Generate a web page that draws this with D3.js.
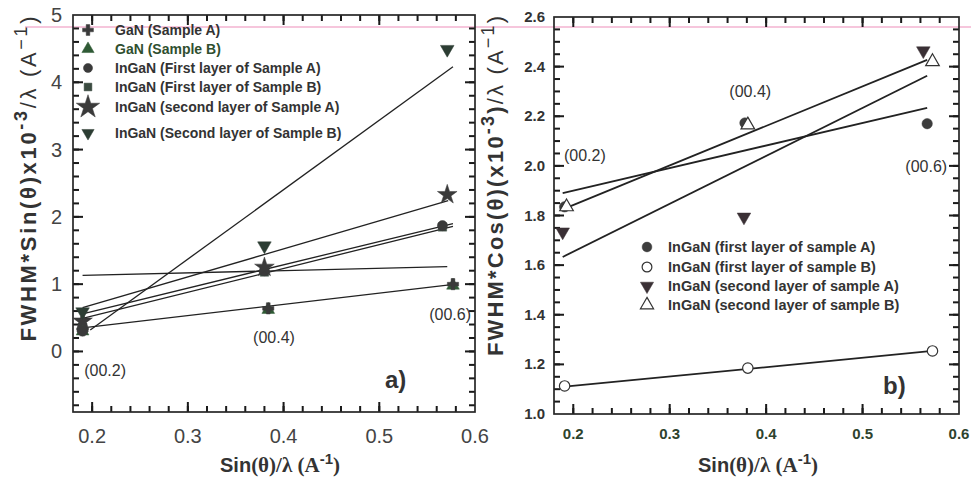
<!DOCTYPE html>
<html>
<head>
<meta charset="utf-8">
<script src="https://cdn.jsdelivr.net/npm/d3@7"></script>
<style>
  body { margin: 0; background: #fff; }
  text { font-family: Arial, "Liberation Sans", sans-serif; }
</style>
</head>
<body>
<svg id="chart" width="971" height="480"></svg>
<script>
// ---------- panel a data ----------
var xTicksA = [0.2, 0.3, 0.4, 0.5, 0.6]
var yTicksA = [0, 1, 2, 3, 4, 5]

// drawing order matters: later series sit on top
var seriesA = [
    { name: "GaN (Sample B)", symbol: "triangle", fill: "#2f5a35", color: "#2f4f2f", leg: 1,
      x: [0.19, 0.384, 0.577], y: [0.3, 0.62, 0.98] },
    { name: "GaN (Sample A)", symbol: "cross", fill: "#3a3a3a", color: "#333", leg: 0,
      x: [0.19, 0.384, 0.577], y: [0.32, 0.64, 1.0] },
    { name: "InGaN (First layer of Sample B)", symbol: "square", fill: "#3a4a40", color: "#333", leg: 3,
      x: [0.19, 0.38, 0.566], y: [0.36, 1.18, 1.85] },
    { name: "InGaN (First layer of Sample A)", symbol: "circle", fill: "#3a3a3a", color: "#333", leg: 2,
      x: [0.19, 0.38, 0.566], y: [0.3, 1.2, 1.87] },
    { name: "InGaN (second layer of Sample A)", symbol: "star", fill: "#3a3a3a", color: "#333", leg: 4,
      x: [0.19, 0.38, 0.571], y: [0.45, 1.25, 2.33] },
    { name: "InGaN (Second layer of Sample B)", symbol: "down", fill: "#2c3d33", color: "#333", leg: 5,
      x: [0.19, 0.38, 0.571], y: [0.59, 1.57, 4.49] }
]

// fitted lines, end values
var fitA = [
    { x: [0.198, 0.577], y: [0.32, 4.23] },
    { x: [0.19, 0.572], y: [0.65, 2.24] },
    { x: [0.19, 0.577], y: [0.56, 1.90] },
    { x: [0.19, 0.577], y: [0.49, 1.86] },
    { x: [0.19, 0.571], y: [1.13, 1.26] },
    { x: [0.19, 0.58], y: [0.35, 1.0] }
]

var hklA = [
    { label: "(00.2)", x: 0.2135, y: -0.36 },
    { label: "(00.4)", x: 0.39, y: 0.13 },
    { label: "(00.6)", x: 0.574, y: 0.46 }
]

// ---------- panel b data ----------
var xTicksB = [0.2, 0.3, 0.4, 0.5, 0.6]
var yTicksB = [1.0, 1.2, 1.4, 1.6, 1.8, 2.0, 2.2, 2.4, 2.6]

var seriesB = [
    { name: "InGaN (first layer of sample A)", symbol: "circle", fill: "#3d3d3d",
      x: [0.191, 0.378, 0.567], y: [1.835, 2.173, 2.17] },
    { name: "InGaN (first layer of sample B)", symbol: "circle", fill: "none",
      x: [0.191, 0.381, 0.5725], y: [1.113, 1.185, 1.254] },
    { name: "InGaN (second layer of sample A)", symbol: "down", fill: "#3a3035",
      x: [0.189, 0.377, 0.563], y: [1.734, 1.794, 2.464] },
    { name: "InGaN (second layer of sample B)", symbol: "triangle", fill: "none",
      x: [0.193, 0.381, 0.5725], y: [1.835, 2.165, 2.42] }
]

var fitB = [
    { x: [0.191, 0.5725], y: [1.11, 1.254] },
    { x: [0.189, 0.567], y: [1.825, 2.427] },
    { x: [0.189, 0.567], y: [1.89, 2.234] },
    { x: [0.189, 0.567], y: [1.633, 2.363] }
]

var hklB = [
    { label: "(00.2)", x: 0.212, y: 2.02 },
    { label: "(00.4)", x: 0.3835, y: 2.278 },
    { label: "(00.6)", x: 0.566, y: 1.975 }
]

var svg = d3.select("#chart")

// scanner artefact: faint pink stripe along the top
svg.append("line")
    .attr("x1", 25).attr("x2", 971).attr("y1", 27).attr("y2", 27)
    .attr("stroke", "#f6c6dc").attr("stroke-width", 2)

function symbolPath(kind, size) {
    var t = {
        cross: d3.symbolCross, triangle: d3.symbolTriangle, circle: d3.symbolCircle,
        square: d3.symbolSquare, star: d3.symbolStar, down: d3.symbolTriangle
    }[kind]
    return d3.symbol().type(t).size(size)()
}

function draw_marker(g, kind, cx, cy, size, fill) {
    var p = g.append("path")
        .attr("d", symbolPath(kind, size))
        .attr("transform", "translate(" + cx + "," + cy + ")" + (kind == "down" ? " rotate(180)" : ""))
    if (fill == "none") {
        p.attr("fill", "#fff").attr("stroke", "#333").attr("stroke-width", 1.2)
    } else {
        p.attr("fill", fill).attr("stroke", fill).attr("stroke-width", 0.5)
    }
    return p
}

function minor_values(lo, hi, step) {
    var out = []
    for (var v = lo; v <= hi + 1e-9; v += step) out.push(+v.toFixed(4))
    return out
}

// frame with inward ticks on all four sides; ticks are small filled rects
function draw_frame(g, x, y, w, h, xMaj, xMin, yMaj, yMin) {
    var rects = []
    xMin.concat(xMaj).forEach(function (v, i) {
        var len = i < xMin.length ? 6 : 10, px = x(v)
        if (px < 1 || px > w - 1) return
        rects.push({ x: px - 1, y: h - len, w: 2, h: len })
        rects.push({ x: px - 1, y: 0, w: 2, h: len })
    })
    yMin.concat(yMaj).forEach(function (v, i) {
        var len = i < yMin.length ? 6 : 10, py = y(v)
        if (py < 1 || py > h - 1) return
        rects.push({ x: 0, y: py - 1, w: len, h: 2 })
        rects.push({ x: w - len, y: py - 1, w: len, h: 2 })
    })
    g.append("g").attr("class", "ticks").selectAll("rect").data(rects).join("rect")
        .attr("x", function (d) { return d.x }).attr("y", function (d) { return d.y })
        .attr("width", function (d) { return d.w }).attr("height", function (d) { return d.h })
        .attr("fill", "#1a1a1a")
    g.append("rect").attr("width", w).attr("height", h)
        .attr("fill", "none").attr("stroke", "#262626").attr("stroke-width", 1.7)
}

var line = function (xs, ys) {
    return d3.line().x(function (d) { return xs(d[0]) }).y(function (d) { return ys(d[1]) })
}

function x_title(cx, cy) {
    var t = svg.append("text").attr("x", cx).attr("y", cy).attr("text-anchor", "middle")
        .attr("font-size", 20).attr("font-weight", "bold").attr("fill", "#333")
    t.append("tspan").text("Sin")
    t.append("tspan").attr("font-family", "'Liberation Serif', serif").attr("font-size", 21).text("(θ)/λ (A")
    t.append("tspan").attr("dy", -8).attr("font-size", 15).text("-1")
    t.append("tspan").attr("dy", 8).attr("font-family", "'Liberation Serif', serif").attr("font-size", 21).text(")")
}

function y_title(cx, cy, len, parts) {
    var t = svg.append("text").attr("transform", "translate(" + cx + "," + cy + ") rotate(-90)")
        .attr("text-anchor", "middle").attr("font-size", 22).attr("font-weight", "bold").attr("fill", "#333")
        .attr("textLength", len).attr("lengthAdjust", "spacing")
    parts.forEach(function (p) {
        var s = t.append("tspan").text(p.t)
        if (p.dy) s.attr("dy", p.dy)
        if (p.fs) s.attr("font-size", p.fs)
        if (p.normal) s.attr("font-weight", "normal")
    })
}

// ================= panel a =================
var mA = { left: 73, top: 15, w: 402, h: 397 }
var gA = svg.append("g").attr("transform", "translate(" + mA.left + "," + mA.top + ")")
var xA = d3.scaleLinear().domain([0.18, 0.6]).range([0, mA.w])
var yA = d3.scaleLinear().domain([-0.9, 5]).range([mA.h, 0])

draw_frame(gA, xA, yA, mA.w, mA.h, xTicksA, minor_values(0.18, 0.6, 0.02),
    yTicksA, minor_values(-0.8, 5, 0.2))

fitA.forEach(function (f) {
    gA.append("path")
        .datum(d3.zip(f.x, f.y))
        .attr("fill", "none").attr("stroke", "#222").attr("stroke-width", 1.3)
        .attr("d", line(xA, yA))
})

var sizeA = { cross: 70, triangle: 70, circle: 80, square: 70, star: 120, down: 80 }
seriesA.forEach(function (s) {
    d3.zip(s.x, s.y).forEach(function (d) {
        draw_marker(gA, s.symbol, xA(d[0]), yA(d[1]), sizeA[s.symbol], s.fill)
    })
})

hklA.forEach(function (h) {
    gA.append("text").attr("x", xA(h.x)).attr("y", yA(h.y))
        .attr("text-anchor", "middle").attr("font-size", 16).attr("fill", "#333")
        .text(h.label)
})
gA.append("text").attr("x", 312).attr("y", 373).attr("font-size", 24)
    .attr("font-weight", "bold").attr("fill", "#333").text("a)")

// legend a
var legRowsA = [35, 54, 73, 92, 112, 138]
var legSizeA = { cross: 65, triangle: 65, circle: 65, square: 60, star: 170, down: 65 }
seriesA.forEach(function (s) {
    var ry = legRowsA[s.leg]
    draw_marker(svg, s.symbol, 88, ry - 5, legSizeA[s.symbol], s.fill)
    svg.append("text").attr("x", 115).attr("y", ry)
        .attr("font-size", 14).attr("font-weight", "bold").attr("fill", s.color)
        .text(s.name)
})

// axis labels a
svg.append("g").selectAll("text").data(xTicksA).join("text")
    .attr("x", function (d) { return mA.left + xA(d) })
    .attr("y", 443).attr("text-anchor", "middle").attr("font-size", 20).attr("fill", "#444")
    .text(function (d) { return d.toFixed(1) })
svg.append("g").selectAll("text").data(yTicksA).join("text")
    .attr("x", 62).attr("y", function (d) { return mA.top + yA(d) + 7 })
    .attr("text-anchor", "end").attr("font-size", 20).attr("fill", "#444")
    .text(function (d) { return d })

x_title(280, 472)

y_title(36, 179, 325, [
    { t: "FWHM*Sin(θ)x10" },
    { t: "-3", dy: -9, fs: 18 },
    { t: "/λ (A", dy: 9, normal: true },
    { t: "−1", dy: -9, fs: 18, normal: true },
    { t: ")", dy: 9, normal: true }
])

// ================= panel b =================
var mB = { left: 554, top: 17, w: 405, h: 397 }
var gB = svg.append("g").attr("transform", "translate(" + mB.left + "," + mB.top + ")")
var xB = d3.scaleLinear().domain([0.18, 0.6]).range([0, mB.w])
var yB = d3.scaleLinear().domain([1.0, 2.6]).range([mB.h, 0])

draw_frame(gB, xB, yB, mB.w, mB.h, xTicksB, minor_values(0.18, 0.6, 0.02),
    yTicksB, minor_values(1.0, 2.6, 0.05))

fitB.forEach(function (f) {
    gB.append("path")
        .datum(d3.zip(f.x, f.y))
        .attr("fill", "none").attr("stroke", "#222").attr("stroke-width", 1.8)
        .attr("d", line(xB, yB))
})

seriesB.forEach(function (s) {
    d3.zip(s.x, s.y).forEach(function (d) {
        draw_marker(gB, s.symbol, xB(d[0]), yB(d[1]), s.symbol == "circle" ? 85 : 80, s.fill)
    })
})

hklB.forEach(function (h) {
    gB.append("text").attr("x", xB(h.x)).attr("y", yB(h.y))
        .attr("text-anchor", "middle").attr("font-size", 16).attr("fill", "#333")
        .text(h.label)
})
gB.append("text").attr("x", 329).attr("y", 377).attr("font-size", 24)
    .attr("font-weight", "bold").attr("fill", "#333").text("b)")

// legend b
var legRowsB = [252, 272, 291, 310]
seriesB.forEach(function (s, i) {
    draw_marker(svg, s.symbol, 647, legRowsB[i] - 5, 75, s.fill)
    svg.append("text").attr("x", 668).attr("y", legRowsB[i])
        .attr("font-size", 14.5).attr("font-weight", "bold").attr("fill", "#333")
        .text(s.name)
})

svg.append("g").selectAll("text").data(xTicksB).join("text")
    .attr("x", function (d) { return mB.left + xB(d) })
    .attr("y", 439).attr("text-anchor", "middle").attr("font-size", 15)
    .attr("font-weight", "bold").attr("fill", "#2e432e")
    .text(function (d) { return d.toFixed(1) })
svg.append("g").selectAll("text").data(yTicksB).join("text")
    .attr("x", 545).attr("y", function (d) { return mB.top + yB(d) + 5 })
    .attr("text-anchor", "end").attr("font-size", 15).attr("font-weight", "bold").attr("fill", "#333")
    .text(function (d) { return d.toFixed(1) })

x_title(758, 472)

y_title(503, 186, 340, [
    { t: "FWHM*Cos(θ)(x10" },
    { t: "-3", dy: -9, fs: 18 },
    { t: ")", dy: 9 },
    { t: "/λ (A", normal: true },
    { t: "−1", dy: -9, fs: 18, normal: true },
    { t: ")", dy: 9, normal: true }
])
</script>
</body>
</html>
